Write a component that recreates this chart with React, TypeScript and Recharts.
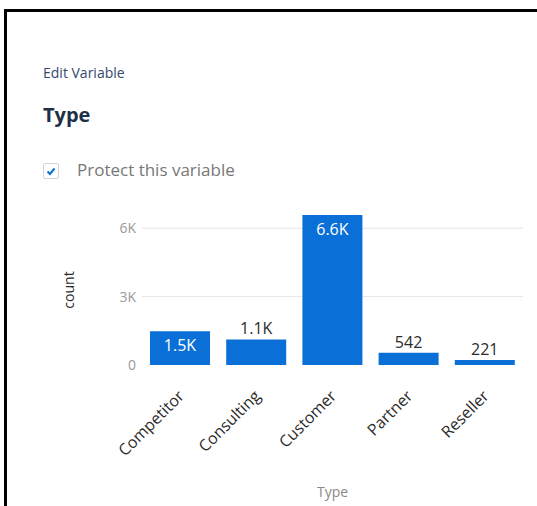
import { BarChart, Bar, XAxis, YAxis, CartesianGrid, LabelList } from 'recharts';

const categories = ['Competitor', 'Consulting', 'Customer', 'Partner', 'Reseller'];
const counts = [1480, 1120, 6580, 542, 221];
const yTicks = [0, 3000, 6000];

const data = categories.map((type, i) => ({ type, count: counts[i] }));

const FONT = '"Open Sans", "Noto Sans", sans-serif';

const fmt = (v: number) => (v >= 1000 ? `${(v / 1000).toFixed(1).replace(/\.0$/, '')}K` : `${v}`);

const ValueLabel = (props: any) => {
  const { x, y, width, value } = props;
  const inside = value >= 1300;
  return (
    <text
      x={x + width / 2}
      y={inside ? y + 20 : y - 5}
      textAnchor="middle"
      fill={inside ? '#ffffff' : '#2b2b2b'}
      fontSize={16}
      fontFamily={FONT}
    >
      {fmt(value)}
    </text>
  );
};

const XTick = ({ x, y, payload }: any) => (
  <text
    x={x + 5}
    y={y + 24}
    transform={`rotate(-45 ${x + 5} ${y + 24})`}
    textAnchor="end"
    fill="#2b2b2b"
    fontSize={16}
    fontFamily={FONT}
  >
    {payload.value}
  </text>
);

const CountLabel = ({ viewBox }: any) => {
  const cx = 68;
  const cy = viewBox.y + viewBox.height / 2;
  return (
    <text x={cx} y={cy} transform={`rotate(-90 ${cx} ${cy})`} textAnchor="middle" dominantBaseline="central" fill="#2b2b2b" fontSize={14} fontFamily={FONT}>
      count
    </text>
  );
};

const App = () => {
  return (
    <div style={{ position: 'absolute', left: 0, top: 0, width: 537, height: 506, background: '#fff', overflow: 'hidden', fontFamily: FONT }}>
      <div style={{ position: 'absolute', left: 4, top: 9, right: -10, bottom: -10, borderTop: '3px solid #000', borderLeft: '3px solid #000' }} />
      <div style={{ position: 'absolute', left: 43, top: 63, fontSize: 14, color: '#34496b' }}>Edit Variable</div>
      <div style={{ position: 'absolute', left: 43, top: 101, fontSize: 20, fontWeight: 700, color: '#1e2f4a' }}>Type</div>
      <div style={{ position: 'absolute', left: 43, top: 163, width: 14, height: 14, border: '1px solid #d4d4d4', borderRadius: 2, background: '#fff' }}>
        <svg width="14" height="14" viewBox="0 0 14 14" style={{ position: 'absolute', left: 0, top: 0 }}>
          <path d="M3.5 7.5 L6 10 L10.5 4.5" stroke="#0a6fd0" strokeWidth="2" fill="none" />
        </svg>
      </div>
      <div style={{ position: 'absolute', left: 77, top: 158, fontSize: 17, color: '#777777' }}>Protect this variable</div>
      <div style={{ position: 'absolute', left: 0, top: 0 }}>
        <BarChart
          width={537}
          height={506}
          data={data}
          margin={{ top: 215, right: 14, bottom: 0, left: 52 }}
          barCategoryGap={8}
        >
          <CartesianGrid vertical={false} stroke="#e6e6e6" horizontalValues={[3000, 6000]} />
          <XAxis
            dataKey="type"
            axisLine={false}
            tickLine={false}
            interval={0}
            height={141}
            tick={<XTick />}
            label={{ value: 'Type', position: 'insideBottom', offset: 9, fill: '#8a8a8a', fontSize: 14, fontFamily: FONT }}
          />
          <YAxis
            width={90}
            domain={[0, 'dataMax']}
            ticks={yTicks}
            tickFormatter={fmt}
            axisLine={false}
            tickLine={false}
            tickSize={0}
            tickMargin={6}
            tick={{ fill: '#9a9a9a', fontSize: 14, fontFamily: FONT }}
            label={<CountLabel />}
          />
          <Bar dataKey="count" fill="#0a6fd6" isAnimationActive={false}>
            <LabelList dataKey="count" content={<ValueLabel />} />
          </Bar>
        </BarChart>
      </div>
    </div>
  );
};

export default App;
